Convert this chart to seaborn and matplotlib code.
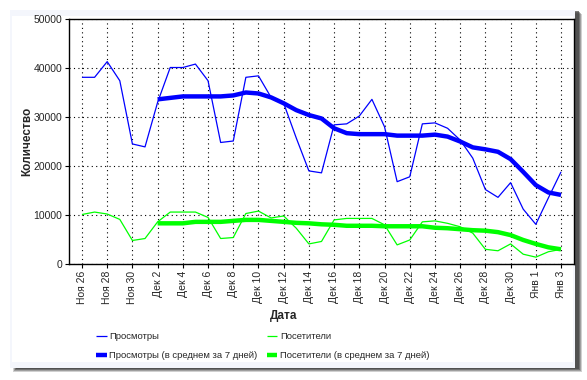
import matplotlib
matplotlib.use("Agg")
import matplotlib.pyplot as plt
from matplotlib.patches import Rectangle
import seaborn as sns
import pandas as pd

sns.set_theme(style="white")
plt.rcParams["font.family"] = ["Liberation Sans", "DejaVu Sans"]

BLUE = "#0000FF"
GREEN = "#00FF00"

dates = pd.date_range("2008-11-26", periods=39, freq="D")

views = [38100, 38100, 41300, 37400, 24500, 23900, 33000, 40100, 40100, 40800,
         37400, 24800, 25100, 38100, 38400, 34000, 32800, 25700, 19000, 18600,
         28400, 28600, 30200, 33600, 28000, 16800, 17800, 28600, 28800, 27700,
         25300, 21600, 15200, 13600, 16600, 11200, 8100, 13500, 18800]
visitors = [10100, 10600, 10200, 9100, 4800, 5200, 8600, 10600, 10600, 10600,
            9500, 5200, 5400, 10300, 10800, 9400, 9800, 7300, 4100, 4600,
            9000, 9300, 9300, 9300, 8000, 3900, 4900, 8600, 8800, 8300,
            7600, 6300, 3000, 2700, 4100, 2000, 1400, 2500, 3000]
views_avg = [None] * 6 + [33600, 33900, 34200, 34200, 34200, 34200, 34400, 35000,
             34800, 34000, 32800, 31400, 30400, 29700, 27700, 26700, 26500, 26500,
             26500, 26200, 26200, 26200, 26400, 26000, 25000, 23800, 23400, 22900,
             21400, 18800, 16100, 14600, 14100]
visitors_avg = [None] * 6 + [8300, 8300, 8300, 8600, 8600, 8600, 8800, 9000,
                9000, 8800, 8600, 8400, 8300, 8100, 8000, 7800, 7800, 7800,
                7700, 7700, 7700, 7700, 7400, 7300, 7100, 6900, 6800, 6500,
                5900, 4900, 4100, 3400, 3000]

tick_labels = ["Ноя 26", "Ноя 28", "Ноя 30", "Дек 2", "Дек 4", "Дек 6", "Дек 8",
               "Дек 10", "Дек 12", "Дек 14", "Дек 16", "Дек 18", "Дек 20",
               "Дек 22", "Дек 24", "Дек 26", "Дек 28", "Дек 30", "Янв 1", "Янв 3"]
y_ticks = [0, 10000, 20000, 30000, 40000, 50000]

df = pd.DataFrame({
    "date": dates,
    "views": views,
    "visitors": visitors,
    "views_avg": pd.to_numeric(pd.Series(views_avg), errors="coerce"),
    "visitors_avg": pd.to_numeric(pd.Series(visitors_avg), errors="coerce"),
})

fig = plt.figure(figsize=(5.87, 3.80), dpi=100)
W, H = 587, 380

# card with drop shadow
for i, a in enumerate([0.25, 0.35, 0.5, 0.7]):
    off = 4 - i
    fig.patches.append(Rectangle(((10 + 3 + i) / W, 1 - (368 + off) / H),
                                 (565 + off - i) / W, 358 / H,
                                 transform=fig.transFigure, facecolor="#444444",
                                 alpha=a, edgecolor="none", zorder=0))
fig.patches.append(Rectangle((10 / W, 1 - 368 / H), 565 / W, 358 / H,
                             transform=fig.transFigure, facecolor="#F4F6FC",
                             edgecolor="none", zorder=1))
fig.patches.append(Rectangle((12 / W, 1 - 362 / H), 561 / W, 346 / H,
                             transform=fig.transFigure, facecolor="white",
                             edgecolor="none", zorder=2))

ax = fig.add_axes([69 / W, 1 - 264 / H, 505 / W, 245 / H])
ax.set_zorder(10)
ax.set_facecolor("white")

kw = dict(ax=ax, solid_capstyle="butt")
sns.lineplot(data=df, x="date", y="views", color=BLUE, lw=0.9,
             label="Просмотры", zorder=3, **kw)
sns.lineplot(data=df, x="date", y="views_avg", color=BLUE, lw=3.2,
             label="Просмотры (в среднем за 7 дней)", zorder=4, **kw)
sns.lineplot(data=df, x="date", y="visitors", color=GREEN, lw=0.9,
             label="Посетители", zorder=3, **kw)
sns.lineplot(data=df, x="date", y="visitors_avg", color=GREEN, lw=3.2,
             label="Посетители (в среднем за 7 дней)", zorder=4, **kw)

ax.set_xlim(dates[0] - pd.Timedelta(days=1.03), dates[-1] + pd.Timedelta(days=1.03))
ax.set_ylim(0, 50000)
ax.set_xticks(dates[::2])
ax.set_xticklabels(tick_labels, rotation=90, fontsize=7.5)
ax.set_yticks(y_ticks)
ax.set_yticklabels([str(v) for v in y_ticks], fontsize=7.5)
ax.tick_params(axis="both", direction="out", length=3, width=0.8, color="black",
               pad=2, bottom=True, left=True)
ax.grid(True, color="black", linestyle=(0, (1, 3)), linewidth=0.8)
for s in ax.spines.values():
    s.set_color("black")
    s.set_linewidth(1.0)
ax.set_xlabel("")
ax.set_ylabel("")

fig.text(284 / W, 1 - 316 / H, "Дата", ha="center", va="center",
         fontsize=8.5, fontweight="bold")
fig.text(27 / W, 1 - 141 / H, "Количество", ha="center", va="center",
         rotation=90, fontsize=8.5, fontweight="bold")

handles, labels = ax.get_legend_handles_labels()
ax.get_legend().remove()
fig.legend(handles, labels, loc="center", bbox_to_anchor=(263 / W, 1 - 346 / H),
           ncol=2, frameon=False, fontsize=6.8, handlelength=1.1,
           handletextpad=0.3, columnspacing=1.0, labelspacing=1.1)

fig.savefig("out.png", dpi=100)
